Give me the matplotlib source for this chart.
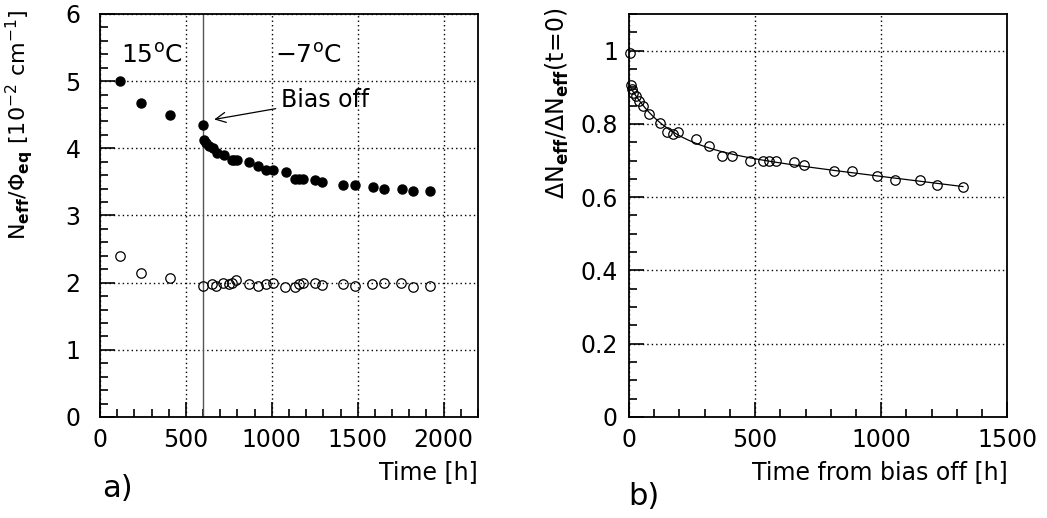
import numpy as np
import matplotlib
matplotlib.use("Agg")
import matplotlib.pyplot as plt
from matplotlib.ticker import MultipleLocator

plt.rcParams['font.family'] = ['DejaVu Sans']
plt.rcParams['mathtext.fontset'] = 'dejavusans'

# panel a) data: Neff/Phi_eq vs time
t_filled = [118, 240, 410, 600, 605, 617, 636, 656, 679, 724, 766, 780, 799, 867, 918,
            964, 1009, 1081, 1133, 1158, 1183, 1250, 1294, 1416, 1486, 1587, 1653,
            1756, 1820, 1921]
n_filled = [5.00, 4.67, 4.50, 4.35, 4.13, 4.08, 4.04, 4.00, 3.93, 3.90, 3.82, 3.82, 3.83,
            3.79, 3.74, 3.67, 3.67, 3.65, 3.54, 3.54, 3.54, 3.53, 3.50, 3.46, 3.46,
            3.43, 3.40, 3.40, 3.37, 3.36]
t_open = [118, 240, 410, 600, 652, 675, 718, 753, 766, 792, 865, 918, 964, 1009, 1077,
          1133, 1158, 1183, 1250, 1294, 1416, 1482, 1585, 1653, 1754, 1820, 1921]
n_open = [2.39, 2.15, 2.07, 1.95, 1.98, 1.95, 1.99, 1.98, 1.99, 2.04, 1.98, 1.95, 1.98,
          1.99, 1.93, 1.94, 1.98, 2.00, 2.00, 1.97, 1.98, 1.95, 1.98, 1.99, 2.00, 1.94,
          1.95]
t_bias_off = 600

# panel b) data: relative change vs time from bias off
t_rel = [2, 7, 10, 17, 28, 41, 57, 79, 122, 152, 176, 196, 266, 317, 368, 407, 480,
         533, 556, 583, 654, 695, 813, 886, 985, 1054, 1154, 1223, 1324]
r_rel = [0.994, 0.907, 0.895, 0.884, 0.875, 0.862, 0.850, 0.827, 0.803, 0.778, 0.772,
         0.778, 0.760, 0.739, 0.713, 0.713, 0.700, 0.700, 0.700, 0.700, 0.695, 0.689,
         0.671, 0.671, 0.659, 0.646, 0.646, 0.634, 0.628]

fig = plt.figure(figsize=(10.47, 5.18), dpi=100)
ax1 = fig.add_axes([0.0955, 0.195, 0.361, 0.778])
ax2 = fig.add_axes([0.6008, 0.195, 0.3613, 0.778])


def style(ax):
    for s in ax.spines.values():
        s.set_linewidth(1.3)
    ax.tick_params(which='both', direction='in', top=False, right=False,
                   labelsize=17, width=1.2)
    ax.tick_params(which='major', length=11)
    ax.tick_params(which='minor', length=6)
    ax.grid(True, which='major', linestyle=(0, (1, 2.2)), color='black', linewidth=1.0)
    ax.set_axisbelow(True)


# panel a
style(ax1)
ax1.set_xlim(0, 2200)
ax1.set_ylim(0, 6)
ax1.xaxis.set_major_locator(MultipleLocator(500))
ax1.xaxis.set_minor_locator(MultipleLocator(100))
ax1.yaxis.set_major_locator(MultipleLocator(1))
ax1.yaxis.set_minor_locator(MultipleLocator(0.2))
ax1.tick_params(axis='y', pad=14)
ax1.tick_params(axis='x', pad=8)
ax1.axvline(t_bias_off, color='#555555', linewidth=1.0)
ax1.plot(t_filled, n_filled, 'o', color='black', markersize=6.5, linestyle='none')
ax1.plot(t_open, n_open, 'o', markerfacecolor='none', markeredgecolor='black',
         markersize=6.8, markeredgewidth=0.9, linestyle='none')
ax1.text(120, 5.38, r'15$^{\rm o}$C', fontsize=18, va='center')
ax1.text(1020, 5.38, r'$-$7$^{\rm o}$C', fontsize=18, va='center')
ax1.annotate('Bias off', xy=(665, 4.43), xytext=(1055, 4.72), fontsize=17,
             va='center',
             arrowprops=dict(arrowstyle='->', color='black', lw=0.9,
                             shrinkA=2, shrinkB=0, mutation_scale=18))
ax1.set_ylabel(r'N$_{\bf eff}$/$\Phi_{\bf eq}$ [10$^{-2}$ cm$^{-1}$]', fontsize=16,
               loc='top')
ax1.yaxis.set_label_coords(-0.172, 1.01)
ax1.set_xlabel('Time [h]', fontsize=17, loc='right', labelpad=6)
fig.text(0.098, 0.04, 'a)', fontsize=22)

# panel b
style(ax2)
ax2.set_xlim(0, 1500)
ax2.set_ylim(0, 1.1)
ax2.xaxis.set_major_locator(MultipleLocator(500))
ax2.xaxis.set_minor_locator(MultipleLocator(100))
ax2.yaxis.set_major_locator(MultipleLocator(0.2))
ax2.yaxis.set_minor_locator(MultipleLocator(0.05))
ax2.set_yticks([0, 0.2, 0.4, 0.6, 0.8, 1.0])
ax2.set_yticklabels(['0', '0.2', '0.4', '0.6', '0.8', '1'])
ax2.tick_params(axis='y', pad=8)
ax2.tick_params(axis='x', pad=8)

# fit curve through points after t=0: a + b*exp(-t/150) + c*t
tr = np.array(t_rel[1:], dtype=float)
rr = np.array(r_rel[1:], dtype=float)
A = np.column_stack([np.ones_like(tr), np.exp(-tr / 150.0), tr])
coef = np.linalg.lstsq(A, rr, rcond=None)[0]
tf = np.linspace(0, max(t_rel), 300)
ax2.plot(tf, coef[0] + coef[1] * np.exp(-tf / 150.0) + coef[2] * tf,
         color='black', linewidth=0.9)
ax2.plot(t_rel, r_rel, 'o', markerfacecolor='none', markeredgecolor='black',
         markersize=6.8, markeredgewidth=0.9, linestyle='none', clip_on=False)
ax2.set_ylabel(r'$\Delta$N$_{\bf eff}$/$\Delta$N$_{\bf eff}$(t=0)', fontsize=17,
               loc='top')
ax2.yaxis.set_label_coords(-0.153, 1.015)
ax2.set_xlabel('Time from bias off [h]', fontsize=17, loc='right', labelpad=6)
fig.text(0.6, 0.025, 'b)', fontsize=22)

fig.savefig('out.png', dpi=100)
